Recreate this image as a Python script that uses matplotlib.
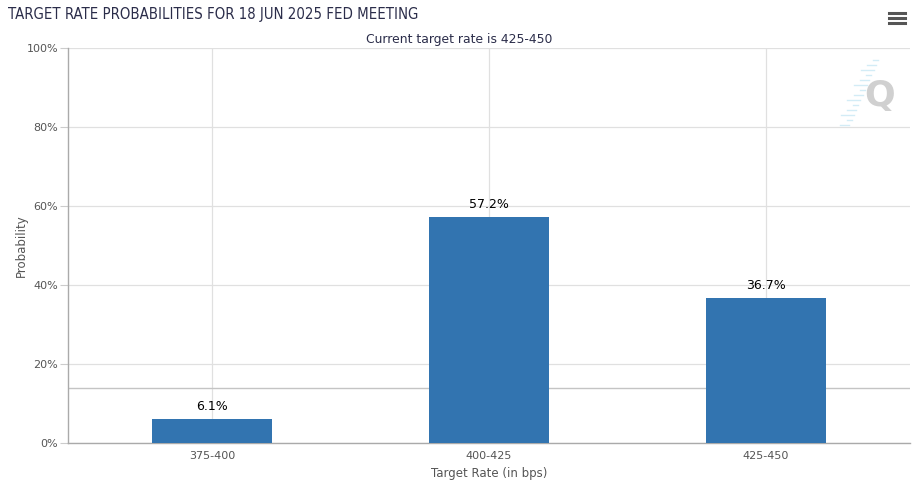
import matplotlib.pyplot as plt
from matplotlib.ticker import FuncFormatter

title = "TARGET RATE PROBABILITIES FOR 18 JUN 2025 FED MEETING"
subtitle = "Current target rate is 425-450"
rates = ["375-400", "400-425", "425-450"]
probs = [6.1, 57.2, 36.7]
ref_level = 13.85  # grey horizontal rule seen in the picture
yticks = [0, 20, 40, 60, 80, 100]

plt.rcParams['font.family'] = ['DejaVu Sans']

fig = plt.figure(figsize=(9.17, 4.95), dpi=100)
ax = fig.add_axes([68/917, 52/495, 842/917, 395/495])

x = list(range(len(rates)))
ax.bar(x, probs, width=0.433, color='#3274b0', zorder=3)
for xi, p in zip(x, probs):
    ax.text(xi, p + 1.6, f"{p}%", ha='center', va='bottom', fontsize=9, color='#000000', zorder=4)

ax.axhline(ref_level, color='#c4c4c4', lw=1, zorder=2)

ax.set_xlim(-0.52, 2.52)
ax.set_ylim(0, 100)
ax.set_xticks(x)
ax.set_xticklabels(rates)
ax.set_yticks(yticks)
ax.yaxis.set_major_formatter(FuncFormatter(lambda v, _: f"{v:.0f}%"))
ax.tick_params(axis='both', labelsize=8, colors='#555555', length=0, pad=6)
ax.tick_params(axis='y', length=6, color='#cccccc', pad=1)
ax.grid(True, color='#e0e0e0', lw=0.9, zorder=0)
for s in ['top', 'right']:
    ax.spines[s].set_visible(False)
for s in ['left', 'bottom']:
    ax.spines[s].set_color('#aaaaaa')
    ax.spines[s].set_linewidth(1)

ax.set_xlabel("Target Rate (in bps)", fontsize=8.5, color='#555555', labelpad=4)
ax.set_ylabel("Probability", fontsize=8.5, color='#555555', labelpad=-1)

fig.text(8/917, 1 - 15/495, title, fontsize=10.7, color='#2b2d4a', ha='left', va='center',
         fontstretch='condensed')
fig.text(459/917, 1 - 40/495, subtitle, fontsize=8.9, color='#2b2d4a', ha='center', va='center')

# menu icon
for yy in [13, 18, 23]:
    fig.add_artist(plt.Line2D([889/917, 905/917], [1 - yy/495, 1 - yy/495], color='#555555', lw=2.2))

# watermark
for i, yy in enumerate(range(60, 128, 5)):
    right = 878 - i * 2.2
    w = 5 + (i % 3) * 4
    fig.add_artist(plt.Line2D([(right - w)/917, right/917], [1 - yy/495, 1 - yy/495],
                              color='#d3ecf6', lw=1))
fig.text(880/917, 1 - 96/495, "Q", fontsize=26, fontweight='bold', color='#d0d0d0', ha='center', va='center')

fig.savefig("out.png", dpi=100)
